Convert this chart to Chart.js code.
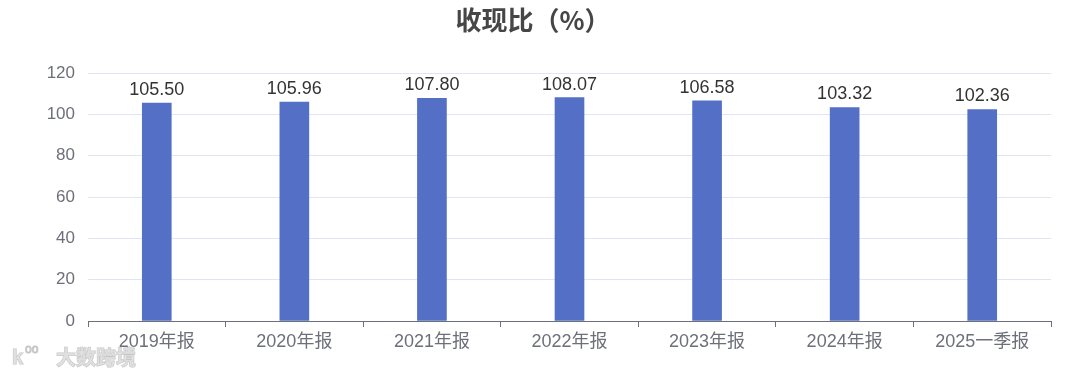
<!DOCTYPE html>
<html>
<head>
<meta charset="utf-8">
<script src="https://cdn.jsdelivr.net/npm/chart.js@4"></script>
<style>
  html, body { margin: 0; padding: 0; background: #fff; }
  #wrap { width: 1080px; height: 379px; position: relative; }
</style>
</head>
<body>
<div id="wrap"><canvas id="chart"></canvas></div>
<script>
// data
const titleText = "收现比（%）";
const categories = ["2019年报", "2020年报", "2021年报", "2022年报", "2023年报", "2024年报", "2025一季报"];
const values = [105.50, 105.96, 107.80, 108.07, 106.58, 103.32, 102.36];
const yTicks = [0, 20, 40, 60, 80, 100, 120];

const FONT = '"Liberation Sans", "Noto Sans CJK SC", sans-serif';

// title, value labels, watermark
const extras = {
  id: 'extras',
  afterDatasetsDraw(chart) {
    const ctx = chart.ctx;
    ctx.save();
    // value labels above bars
    const meta = chart.getDatasetMeta(0);
    ctx.fillStyle = '#333';
    ctx.font = '18px ' + FONT;
    ctx.textAlign = 'center';
    ctx.textBaseline = 'bottom';
    meta.data.forEach((bar, i) => {
      ctx.fillText(values[i].toFixed(2), bar.x, bar.y - 4);
    });
    // title
    ctx.fillStyle = '#464646';
    ctx.font = 'bold 26px "Noto Sans CJK SC", sans-serif';
    ctx.textBaseline = 'middle';
    ctx.fillText(titleText, 533, 20);
    // watermark
    ctx.textAlign = 'left';
    ctx.font = 'bold 20px "Noto Sans CJK SC", sans-serif';
    ctx.fillStyle = 'rgba(220,220,220,0.85)';
    ctx.strokeStyle = 'rgba(160,160,160,0.6)';
    ctx.lineWidth = 1;
    ctx.strokeText('大数跨境', 56, 357);
    ctx.fillText('大数跨境', 56, 357);
    ctx.font = 'bold 20px ' + FONT;
    ctx.strokeText('k', 12, 358);
    ctx.fillText('k', 12, 358);
    ctx.font = '12px ' + FONT;
    ctx.strokeText('oo', 25, 350);
    ctx.restore();
  }
};

new Chart(document.getElementById('chart'), {
  type: 'bar',
  data: {
    labels: categories,
    datasets: [{
      data: values,
      backgroundColor: '#5470c6',
      barThickness: 29,
    }]
  },
  options: {
    responsive: true,
    maintainAspectRatio: false,
    animation: false,
    layout: { padding: { top: 73, right: 29, left: 0, bottom: 0 } },
    plugins: {
      legend: { display: false },
      title: { display: false },
      tooltip: { enabled: false }
    },
    scales: {
      x: {
        offset: true,
        grid: {
          offset: true,
          drawOnChartArea: false,
          tickLength: 6,
          color: '#6e7079'
        },
        border: { color: '#6e7079', width: 1 },
        ticks: {
          color: '#6e7079',
          font: { size: 18, family: FONT },
          padding: 4,
          maxRotation: 0
        },
        afterFit(axis) { axis.height = 58; }
      },
      y: {
        min: 0,
        max: 120,
        afterBuildTicks(axis) { axis.ticks = yTicks.map(v => ({ value: v })); },
        grid: { color: '#e0e6f1', drawTicks: false },
        border: { display: false },
        ticks: {
          color: '#6e7079',
          font: { size: 17, family: FONT },
          padding: 13
        },
        afterFit(axis) { axis.width = 88; }
      }
    }
  },
  plugins: [extras]
});
</script>
</body>
</html>
